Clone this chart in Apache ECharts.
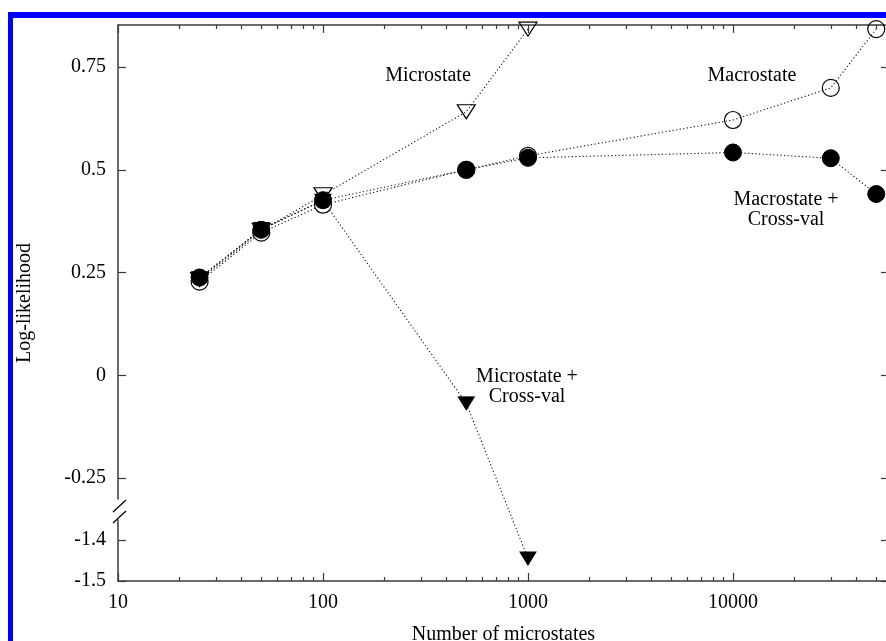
<!DOCTYPE html>
<html><head><meta charset="utf-8">
<script src="https://cdn.jsdelivr.net/npm/echarts@6/dist/echarts.min.js"></script>
<style>html,body{margin:0;padding:0;background:#fff}#c{width:886px;height:641px}</style>
</head><body><div id="c"></div>
<script>
const microX = [25, 50, 100, 500, 1000];
const microY = [0.233, 0.352, 0.439, 0.641, 0.842];
const macroX = [25, 50, 100, 500, 1000, 10000, 30000, 50000];
const macroY = [0.228, 0.347, 0.415, 0.500, 0.534, 0.621, 0.699, 0.842];
const microCvX = [25, 50, 100, 500, 1000];
const microCvY = [0.236, 0.356, 0.425, -0.068, -1.445];
const macroCvX = [25, 50, 100, 500, 1000, 10000, 30000, 50000];
const macroCvY = [0.238, 0.354, 0.426, 0.500, 0.529, 0.542, 0.528, 0.441];
const xMajorTicks = [10, 100, 1000, 10000];
const xMinorTicks = [20, 30, 40, 50, 60, 70, 80, 90, 200, 300, 400, 500, 600, 700, 800, 900,
  2000, 3000, 4000, 5000, 6000, 7000, 8000, 9000, 20000, 30000, 40000, 50000];
const yTicks = [-1.5, -1.4, -0.25, 0, 0.25, 0.5, 0.75];
const xMin = 10, xMax = 57700;
const yMin = -1.5, yMax = 0.852;
const yBreak = { start: -1.35, end: -0.3, gap: 0.05 };

const zip = (xs, ys) => xs.map((x, i) => [x, ys[i]]);
const FONT = '"Liberation Serif", "DejaVu Serif", serif';
const AX = '#3a3a3a';

function xAxisCfg(pos, ticks, len, showLine, labels) {
  return {
    type: 'log', position: pos, min: xMin, max: xMax, logBase: 10,
    axisLine: { show: showLine, onZero: false, lineStyle: { color: AX, width: 1.5 } },
    axisTick: { show: true, inside: true, length: len, customValues: ticks, lineStyle: { color: AX, width: 1.2 } },
    axisLabel: labels ? { show: true, customValues: xMajorTicks, margin: 12, color: '#000', fontFamily: FONT, fontSize: 20,
      formatter: v => String(Math.round(v)) } : { show: false },
    splitLine: { show: false }, minorTick: { show: false }, minorSplitLine: { show: false },
    name: labels && pos === 'bottom' ? 'Number of microstates' : '',
    nameLocation: 'middle', nameGap: 44,
    nameTextStyle: { color: '#000', fontFamily: FONT, fontSize: 20 }
  };
}
function yAxisCfg(pos, labels) {
  return {
    type: 'value', position: pos, min: yMin, max: yMax,
    breaks: [yBreak],
    breakArea: { show: false },
    axisLine: { show: true, onZero: false, lineStyle: { color: AX, width: 1.5 } },
    axisTick: { show: true, inside: true, length: 8, customValues: yTicks, lineStyle: { color: AX, width: 1.2 } },
    axisLabel: labels ? { show: true, customValues: yTicks, margin: 12, color: '#000', fontFamily: FONT, fontSize: 20,
      formatter: v => String(Math.round(v * 100) / 100) } : { show: false },
    splitLine: { show: false },
    name: labels ? 'Log-likelihood' : '',
    nameLocation: 'middle', nameGap: 83, nameRotate: 90,
    nameTextStyle: { color: '#000', fontFamily: FONT, fontSize: 20 }
  };
}
const line = { color: '#111', width: 1.1, type: [1.2, 2.4] };
const tri = 'path://M0,0 L20,0 L10,16 Z';

const chart = echarts.init(document.getElementById('c'), null, { renderer: 'canvas' });
chart.setOption({
  backgroundColor: '#fff',
  animation: false,
  grid: { left: 118, top: 25, width: 771, height: 556, containLabel: false, outerBoundsMode: 'none' },
  xAxis: [
    xAxisCfg('bottom', xMajorTicks, 8, true, true),
    xAxisCfg('bottom', xMinorTicks, 4, false, false),
    xAxisCfg('top', xMajorTicks, 8, true, false),
    xAxisCfg('top', xMinorTicks, 4, false, false)
  ],
  yAxis: [yAxisCfg('left', true), yAxisCfg('right', false)],
  series: [
    { name: 'Microstate', type: 'line', data: zip(microX, microY), symbol: tri, symbolSize: [18, 14],
      itemStyle: { color: 'rgba(255,255,255,0)', borderColor: '#000', borderWidth: 1.2 }, lineStyle: line, z: 2 },
    { name: 'Macrostate', type: 'line', data: zip(macroX, macroY), symbol: 'circle', symbolSize: 17,
      itemStyle: { color: 'rgba(255,255,255,0)', borderColor: '#000', borderWidth: 1.2 }, lineStyle: line, z: 3 },
    { name: 'Microstate + Cross-val', type: 'line', data: zip(microCvX, microCvY), symbol: tri, symbolSize: [16, 13],
      itemStyle: { color: '#000', borderColor: '#000', borderWidth: 1 }, lineStyle: line, z: 4 },
    { name: 'Macrostate + Cross-val', type: 'line', data: zip(macroCvX, macroCvY), symbol: 'circle', symbolSize: 17,
      itemStyle: { color: '#000', borderColor: '#000', borderWidth: 1 }, lineStyle: line, z: 5 }
  ],
  graphic: [
    { type: 'rect', shape: { x: 8, y: 12, width: 878, height: 6 }, style: { fill: '#0000ff' }, z: 100 },
    { type: 'rect', shape: { x: 8, y: 12, width: 5, height: 629 }, style: { fill: '#0000ff' }, z: 100 },
    { type: 'rect', shape: { x: 115, y: 505, width: 6, height: 12 }, style: { fill: '#fff' }, z: 100 },
    { type: 'line', shape: { x1: 113, y1: 512, x2: 126, y2: 500 }, style: { stroke: '#000', lineWidth: 1.2 }, z: 101 },
    { type: 'line', shape: { x1: 113, y1: 523, x2: 126, y2: 511 }, style: { stroke: '#000', lineWidth: 1.2 }, z: 101 },
    { type: 'text', style: { text: 'Microstate', x: 428, y: 76, align: 'center', verticalAlign: 'middle', font: '20px ' + FONT, fill: '#000' }, z: 50 },
    { type: 'text', style: { text: 'Macrostate', x: 752, y: 76, align: 'center', verticalAlign: 'middle', font: '20px ' + FONT, fill: '#000' }, z: 50 },
    { type: 'text', style: { text: 'Macrostate +\nCross-val', x: 786, y: 210, align: 'center', verticalAlign: 'middle', lineHeight: 20, font: '20px ' + FONT, fill: '#000' }, z: 50 },
    { type: 'text', style: { text: 'Microstate +\nCross-val', x: 527, y: 387, align: 'center', verticalAlign: 'middle', lineHeight: 20, font: '20px ' + FONT, fill: '#000' }, z: 50 }
  ]
});
</script></body></html>
